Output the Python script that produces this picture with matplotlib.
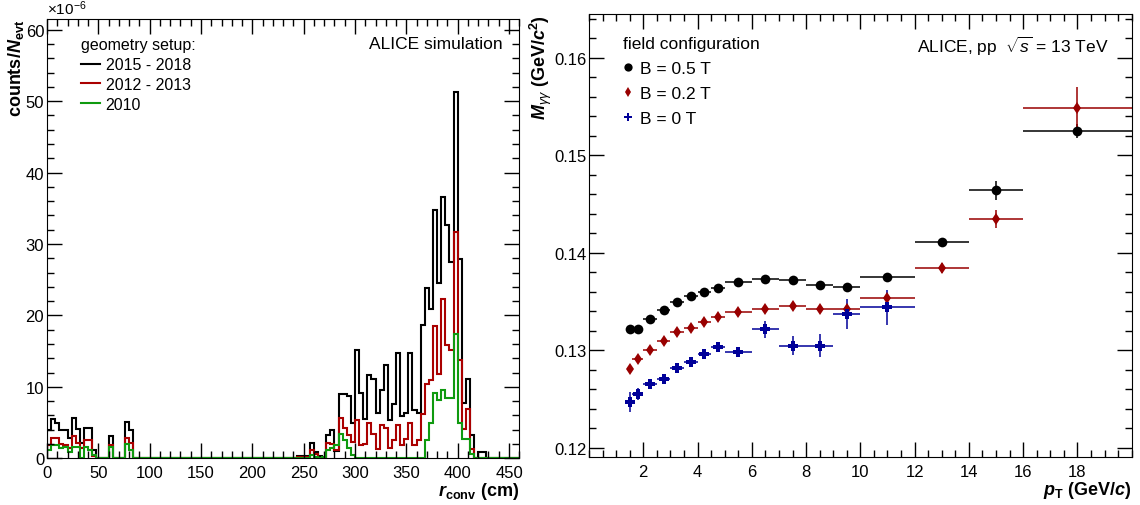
import numpy as np
import matplotlib
matplotlib.use("Agg")
import matplotlib.pyplot as plt
from matplotlib.lines import Line2D
from matplotlib.ticker import MultipleLocator

plt.rcParams['font.family'] = ['Liberation Sans', 'DejaVu Sans']
plt.rcParams['mathtext.fontset'] = 'custom'
plt.rcParams['mathtext.rm'] = 'Liberation Sans'
plt.rcParams['mathtext.it'] = 'Liberation Sans:italic'
plt.rcParams['mathtext.bf'] = 'Liberation Sans:bold'
plt.rcParams['mathtext.bfit'] = 'Liberation Sans:italic:bold'

# ---- left panel: conversion radius, 4 cm bins, 0-460 cm (values x 1e-6)
r_edges = np.arange(0, 461, 4)

black_1518 = [
    3.9, 5.5, 5.0, 3.9, 3.9, 2.8, 5.6, 4.1, 2.2, 4.2,
    4.2, 1.1, 0.0, 0.0, 0.0, 3.1, 0.0, 0.0, 0.0, 5.1,
    3.9, 0.0, 0.0, 0.0, 0.0, 0.0, 0.0, 0.0, 0.0, 0.0,
    0.0, 0.0, 0.0, 0.0, 0.0, 0.0, 0.0, 0.0, 0.0, 0.0,
    0.0, 0.0, 0.0, 0.0, 0.0, 0.0, 0.0, 0.0, 0.0, 0.0,
    0.0, 0.0, 0.0, 0.0, 0.0, 0.0, 0.0, 0.0, 0.0, 0.0,
    0.0, 0.3, 0.3, 0.3, 2.1, 0.9, 0.3, 0.0, 3.3, 3.9,
    1.0, 9.0, 9.0, 8.7, 4.9, 15.1, 9.2, 5.5, 11.6, 11.1,
    6.4, 9.5, 13.1, 5.3, 7.6, 14.7, 5.9, 6.4, 14.8, 6.7,
    6.4, 18.6, 23.9, 20.9, 34.7, 24.6, 36.6, 32.7, 27.5, 51.3,
    27.9, 7.8, 11.1, 3.2, 0.0, 0.9, 0.9, 0.0, 0.0, 0.0,
    0.0, 0.0, 0.0, 0.0, 0.0,
]
red_1213 = [
    1.8, 2.9, 2.9, 2.0, 1.8, 1.5, 3.1, 2.2, 1.5, 2.5,
    2.5, 0.3, 0.0, 0.0, 0.0, 1.8, 0.0, 0.0, 0.0, 2.8,
    2.2, 0.0, 0.0, 0.0, 0.0, 0.0, 0.0, 0.0, 0.0, 0.0,
    0.0, 0.0, 0.0, 0.0, 0.0, 0.0, 0.0, 0.0, 0.0, 0.0,
    0.0, 0.0, 0.0, 0.0, 0.0, 0.0, 0.0, 0.0, 0.0, 0.0,
    0.0, 0.0, 0.0, 0.0, 0.0, 0.0, 0.0, 0.0, 0.0, 0.0,
    0.0, 0.2, 0.2, 0.2, 1.1, 0.6, 0.1, 0.0, 2.2, 2.0,
    1.2, 5.6, 4.3, 3.2, 2.3, 5.3, 1.8, 2.0, 5.0, 3.4,
    1.3, 4.6, 4.3, 1.4, 2.6, 4.6, 1.8, 2.7, 5.0, 1.8,
    2.5, 6.2, 10.4, 10.9, 18.5, 11.8, 22.3, 15.8, 15.1, 31.7,
    13.7, 4.1, 6.9, 1.3, 0.0, 0.0, 0.0, 0.0, 0.0, 0.0,
    0.0, 0.0, 0.0, 0.0, 0.0,
]
green_2010 = [
    1.1, 1.9, 1.9, 1.4, 1.6, 0.9, 1.6, 1.6, 0.0, 1.6,
    1.1, 0.4, 0.0, 0.0, 0.0, 1.6, 0.0, 0.0, 0.0, 2.0,
    1.1, 0.0, 0.0, 0.0, 0.0, 0.0, 0.0, 0.0, 0.0, 0.0,
    0.0, 0.0, 0.0, 0.0, 0.0, 0.0, 0.0, 0.0, 0.0, 0.0,
    0.0, 0.0, 0.0, 0.0, 0.0, 0.0, 0.0, 0.0, 0.0, 0.0,
    0.0, 0.0, 0.0, 0.0, 0.0, 0.0, 0.0, 0.0, 0.0, 0.0,
    0.0, 0.1, 0.1, 0.1, 0.4, 0.2, 0.0, 0.2, 1.2, 1.5,
    1.8, 3.4, 2.6, 1.4, 0.4, 0.1, 0.0, 0.0, 0.0, 0.0,
    0.0, 0.0, 0.0, 0.0, 0.0, 0.0, 0.0, 0.0, 0.0, 0.0,
    0.0, 0.0, 2.5, 5.0, 9.2, 8.1, 9.5, 8.5, 8.5, 17.4,
    5.0, 2.7, 2.7, 0.6, 0.0, 0.0, 0.0, 0.0, 0.0, 0.0,
    0.0, 0.0, 0.0, 0.0, 0.0,
]
hist_labels = ['2015 - 2018', '2012 - 2013', '2010']
hist_colors = ['black', '#aa0000', '#0f9a0f']

# ---- right panel: diphoton mass peak position vs pT
pt_edges = [1.4, 1.6, 2.0, 2.5, 3.0, 3.5, 4.0, 4.5, 5.0, 6.0, 7.0, 8.0, 9.0,
            10.0, 12.0, 14.0, 16.0, 20.0]
m_b05 = [0.13212, 0.13212, 0.13322, 0.13407, 0.13489, 0.13551, 0.13599, 0.13633,
         0.13699, 0.13726, 0.13715, 0.13668, 0.13647, 0.13753, 0.14106, 0.14640, 0.15247]
e_b05 = [0.0002, 0.0002, 0.0002, 0.0002, 0.0002, 0.0002, 0.0002, 0.0002,
         0.0002, 0.0002, 0.0002, 0.0002, 0.0002, 0.0003, 0.0004, 0.0010, 0.0007]
m_b02 = [0.12808, 0.12911, 0.13006, 0.13096, 0.13185, 0.13229, 0.13288, 0.13335,
         0.13391, 0.13417, 0.13448, 0.13424, 0.13424, 0.13530, 0.13839, 0.14346, 0.15487]
e_b02 = [0.0003, 0.0003, 0.0003, 0.0003, 0.0003, 0.0003, 0.0003, 0.0003,
         0.0003, 0.0003, 0.0003, 0.0003, 0.0003, 0.0004, 0.0005, 0.0009, 0.0021]
m_b0 = [0.12466, 0.12551, 0.12654, 0.12706, 0.12821, 0.12873, 0.12962, 0.13027,
        0.12979, 0.13212, 0.13047, 0.13047, 0.13370, 0.13438]
e_b0 = [0.0010, 0.0006, 0.0003, 0.0004, 0.0003, 0.0003, 0.0004, 0.0004,
        0.0003, 0.0009, 0.0010, 0.0012, 0.0015, 0.0018]
field_labels = ['B = 0.5 T', 'B = 0.2 T', 'B = 0 T']

fig = plt.figure(figsize=(11.4, 5.06), dpi=100)

# ================= left
ax1 = fig.add_axes([0.0412, 0.0923, 0.4143, 0.8682])
for vals, col in zip([black_1518, red_1213, green_2010], hist_colors):
    ax1.stairs(vals, r_edges, color=col, lw=1.5)
ax1.set_xlim(0, 460)
ax1.set_ylim(0, 61.5)
ax1.xaxis.set_major_locator(MultipleLocator(50))
ax1.xaxis.set_minor_locator(MultipleLocator(10))
ax1.yaxis.set_major_locator(MultipleLocator(10))
ax1.yaxis.set_minor_locator(MultipleLocator(2))
ax1.tick_params(which='both', direction='in', top=True, right=True, labelsize=12, width=1)
ax1.tick_params(which='major', length=10.5)
ax1.tick_params(which='minor', length=5)
ax1.tick_params(axis='x', pad=5)
ax1.tick_params(axis='y', pad=2)
ax1.set_xlabel(r'$\mathbfit{r}_{\mathbf{conv}}$ (cm)', fontsize=13, fontweight='bold', loc='right', labelpad=0)
ax1.set_ylabel(r'counts/$\mathbfit{N}_{\mathbf{evt}}$', fontsize=13, fontweight='bold', loc='top', labelpad=0)
ax1.text(0.0, 1.004, r'$\times$10$^{-6}$', transform=ax1.transAxes, fontsize=11, ha='left', va='bottom')
ax1.text(0.965, 0.945, 'ALICE simulation', transform=ax1.transAxes, fontsize=12.5, ha='right', va='center')
h1 = [Line2D([], [], color=c, lw=1.5) for c in hist_colors]
leg1 = ax1.legend(h1, hist_labels, title='geometry setup:', loc='upper left',
                  bbox_to_anchor=(0.072, 0.958), frameon=False, fontsize=11.5, title_fontsize=11.5,
                  alignment='left', borderpad=0, borderaxespad=0, labelspacing=0.3,
                  handlelength=1.2, handletextpad=0.35)

# ================= right
ax2 = fig.add_axes([0.5167, 0.0943, 0.4760, 0.8761])
edges = np.array(pt_edges)
centers = 0.5 * (edges[:-1] + edges[1:])
halfw = 0.5 * (edges[1:] - edges[:-1])
series = [(m_b05, e_b05, 'black', 'o', 7), (m_b02, e_b02, '#990000', 'd', 6.5),
          (m_b0, e_b0, '#000099', 'P', 7)]
handles = []
for (m, e, col, mk, ms), lab in zip(series, field_labels):
    n = len(m)
    eb = ax2.errorbar(centers[:n], m, yerr=e, xerr=halfw[:n], fmt=mk, color=col,
                      ms=ms, mew=0, elinewidth=1.1, capsize=0, label=lab)
    handles.append(eb[0])
ax2.set_xlim(0, 20)
ax2.set_ylim(0.119, 0.1645)
ax2.tick_params(which='both', direction='in', top=True, right=True, labelsize=12, width=1)
ax2.tick_params(which='major', length=10.5)
ax2.tick_params(which='minor', length=5)
ax2.tick_params(axis='x', pad=5)
ax2.tick_params(axis='y', pad=2)
ax2.set_xticks(np.arange(2, 19, 2))
ax2.set_xticks(np.arange(0, 20.01, 0.5), minor=True)
ax2.set_yticks([0.12, 0.13, 0.14, 0.15, 0.16])
ax2.set_yticks(np.arange(0.12, 0.1646, 0.002), minor=True)
ax2.set_yticklabels(['0.12', '0.13', '0.14', '0.15', '0.16'])
ax2.set_xlabel(r'$\mathbfit{p}_{\mathbf{T}}$ (GeV/$\mathbfit{c}$)', fontsize=13, fontweight='bold', loc='right', labelpad=0)
ax2.set_ylabel(r'$\mathbfit{M}_{\gamma\gamma}$ (GeV/$\mathbfit{c}^{\mathbf{2}}$)', fontsize=13, fontweight='bold', loc='top', labelpad=0)
ax2.text(0.957, 0.93, r'ALICE, pp  $\sqrt{s}$ = 13 TeV', transform=ax2.transAxes, fontsize=12.5, ha='right', va='center')
leg2 = ax2.legend(handles, field_labels, title='field configuration', loc='upper left',
                  bbox_to_anchor=(0.062, 0.95), frameon=False, fontsize=12.5, title_fontsize=12.5,
                  alignment='left', borderpad=0, borderaxespad=0, labelspacing=0.56,
                  handlelength=0.6, handletextpad=0.4, markerscale=0.85)

fig.savefig('out.png', dpi=100)
